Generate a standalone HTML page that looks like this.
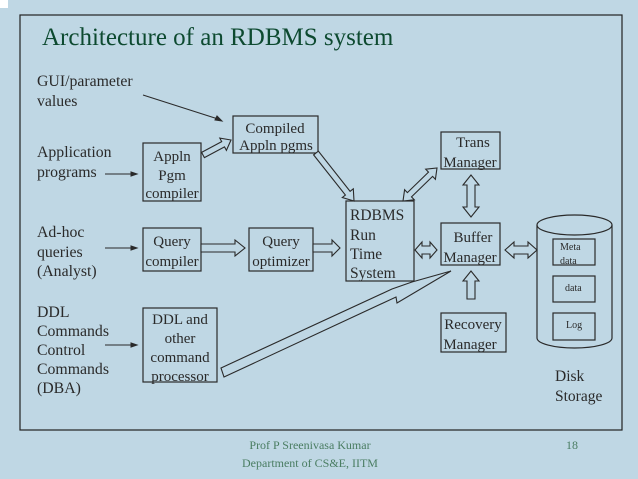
<!DOCTYPE html>
<html><head><meta charset="utf-8"><style>
html,body{margin:0;padding:0;background:#bfd7e4;}
svg{display:block;}
text{font-family:"Liberation Serif",serif;fill:#2a2a2a;}
</style></head><body>
<svg id="s" width="638" height="479" viewBox="0 0 638 479" xmlns="http://www.w3.org/2000/svg">
<rect x="0" y="0" width="638" height="479" fill="#bfd7e4"/>
<rect x="0" y="0" width="8" height="8" fill="#ffffff"/>
<rect x="20" y="15" width="602" height="415" fill="none" stroke="#222" stroke-width="1.2"/>
<text x="42" y="45" font-size="25" style="fill:#0d4a30">Architecture of an RDBMS system</text>
<g font-size="15.8">
<text x="37" y="86">GUI/parameter</text><text x="37" y="106">values</text>
<text x="37" y="157">Application</text><text x="37" y="177">programs</text>
<text x="37" y="237">Ad-hoc</text><text x="37" y="257">queries</text><text x="37" y="276">(Analyst)</text>
<text x="37" y="317">DDL</text><text x="37" y="336">Commands</text><text x="37" y="355">Control</text><text x="37" y="374">Commands</text><text x="37" y="393">(DBA)</text>
</g>
<g fill="none" stroke="#2a2a2a" stroke-width="1.2">
<rect x="233" y="116" width="85" height="37"/>
<rect x="143" y="143" width="58" height="58"/>
<rect x="143" y="228" width="58" height="43"/>
<rect x="249" y="228" width="64" height="43"/>
<rect x="346" y="201" width="68" height="80"/>
<rect x="441" y="132" width="59" height="37"/>
<rect x="441" y="223" width="59" height="42"/>
<rect x="441" y="313" width="65" height="39"/>
<rect x="143" y="308" width="74" height="74"/>
<rect x="553" y="239" width="42" height="26"/>
<rect x="553" y="276" width="42" height="26"/>
<rect x="553" y="313" width="42" height="27"/>
<path d="M537,225 L537,338 A37.5,10 0 0 0 612,338 L612,225"/>
<ellipse cx="574.5" cy="225" rx="37.5" ry="10"/>
</g>
<g font-size="15" text-anchor="middle">
<text x="275" y="133">Compiled</text><text x="276" y="150">Appln pgms</text>
<text x="172" y="161">Appln</text><text x="172" y="180">Pgm</text><text x="172" y="198">compiler</text>
<text x="172" y="246">Query</text><text x="172" y="266">compiler</text>
<text x="281" y="246">Query</text><text x="281" y="266">optimizer</text>
<text x="473" y="147">Trans</text><text x="470" y="167">Manager</text>
<text x="473" y="242">Buffer</text><text x="470" y="262">Manager</text>
<text x="473" y="329">Recovery</text><text x="470" y="349">Manager</text>
<text x="180" y="324">DDL and</text><text x="180" y="343">other</text><text x="180" y="362">command</text><text x="180" y="381">processor</text>
</g>
<g font-size="15.5">
<text x="350" y="220">RDBMS</text><text x="350" y="240">Run</text><text x="350" y="259">Time</text><text x="350" y="278">System</text>
<text x="555" y="381">Disk</text><text x="555" y="401">Storage</text>
</g>
<g font-size="10">
<text x="560" y="250">Meta</text><text x="560" y="264">data</text>
<text x="565" y="291">data</text>
<text x="566" y="328">Log</text>
</g>
<g stroke="#2a2a2a" stroke-width="1" fill="#2a2a2a">
<line x1="143" y1="95" x2="218" y2="119"/><polygon points="222,121 215,120 217,116"/>
<line x1="105" y1="174" x2="133" y2="174"/><polygon points="137,174 131,172 131,176"/>
<line x1="105" y1="248" x2="133" y2="248"/><polygon points="137,248 131,246 131,250"/>
<line x1="105" y1="345" x2="133" y2="345"/><polygon points="137,345 131,343 131,347"/>
</g>
<polygon points="221,368 392,289 412,282 451,271 397,303 396,297 224,377" fill="#bfd7e4" stroke="#2a2a2a" stroke-width="1.1"/>
<g id="arrows" fill="#bfd7e4" stroke="#2a2a2a" stroke-width="1.1"></g>
<g font-size="12" text-anchor="middle" style="font-family:'Liberation Serif',serif">
<text x="310" y="449" style="fill:#4a7d62">Prof P Sreenivasa Kumar</text>
<text x="310" y="467" style="fill:#4a7d62">Department of CS&amp;E, IITM</text>
<text x="572" y="449" style="fill:#4a7d62">18</text>
</g>
</svg>
<script>
function arr(x1,y1,x2,y2,w,h,L,dbl){
 var dx=x2-x1,dy=y2-y1,len=Math.hypot(dx,dy),ux=dx/len,uy=dy/len,nx=-uy,ny=ux;
 function p(bx,by,a,b){return [bx+ux*a+nx*b,by+uy*a+ny*b];}
 var pts=[];
 if(dbl){pts.push([x1,y1],p(x1,y1,L,h),p(x1,y1,L,w));}else{pts.push(p(x1,y1,0,w));}
 pts.push(p(x2,y2,-L,w),p(x2,y2,-L,h),[x2,y2],p(x2,y2,-L,-h),p(x2,y2,-L,-w));
 if(dbl){pts.push(p(x1,y1,L,-w),p(x1,y1,L,-h));}else{pts.push(p(x1,y1,0,-w));}
 var g=document.getElementById('arrows');
 var e=document.createElementNS('http://www.w3.org/2000/svg','polygon');
 e.setAttribute('points',pts.map(function(q){return q[0].toFixed(1)+','+q[1].toFixed(1)}).join(' '));
 g.appendChild(e);
}
arr(203,155,231,140,3,7,9,false);
arr(316,153,354,201,3,7,10,false);
arr(201,248,245,248,4,8,10,false);
arr(313,248,340,248,4,8,8,false);
arr(403,201,437,168,3,7,9,true);
arr(471,175,471,217,4,8,10,true);
arr(415,250,437,250,4,8,7,true);
arr(471,299,471,271,4,8,10,false);
arr(505,250,537,250,4,8,9,true);
</script>
</body></html>
